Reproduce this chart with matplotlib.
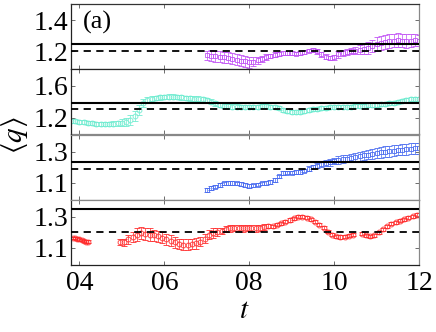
import numpy as np
import matplotlib
matplotlib.use("Agg")
import matplotlib.pyplot as plt
from matplotlib import font_manager

# ---------------- data ----------------
x_ticks = [4, 6, 8, 10, 12]
x_ticklabels = ["04", "06", "08", "10", "12"]

# panel 1 (violet)
p1_t0 = 7.0
p1_q = [1.175, 1.172, 1.168, 1.165, 1.162, 1.158, 1.152, 1.146, 1.140, 1.135,
        1.130, 1.134, 1.142, 1.152, 1.162, 1.170, 1.178, 1.185, 1.188, 1.190,
        1.188, 1.186, 1.190, 1.195, 1.205, 1.210, 1.200, 1.180, 1.165, 1.158,
        1.162, 1.180, 1.192, 1.198, 1.202, 1.205, 1.210, 1.215, 1.222, 1.235,
        1.245, 1.255, 1.262, 1.268, 1.270, 1.272, 1.270, 1.268, 1.270, 1.272,
        1.270]
p1_err = [0.030, 0.035, 0.035, 0.035, 0.035, 0.035, 0.035, 0.035, 0.035, 0.035,
          0.035, 0.030, 0.025, 0.020, 0.020, 0.015, 0.015, 0.012, 0.012, 0.012,
          0.012, 0.012, 0.012, 0.012, 0.012, 0.012, 0.015, 0.015, 0.015, 0.015,
          0.015, 0.020, 0.020, 0.020, 0.020, 0.025, 0.030, 0.035, 0.040, 0.040,
          0.045, 0.045, 0.045, 0.045, 0.045, 0.045, 0.045, 0.045, 0.040, 0.040,
          0.035]
p1_solid, p1_dashed = 1.25, 1.20
p1_ylim = (1.085, 1.505)
p1_ticks = [1.2, 1.4]

# panel 2 (aquamarine)
p2_t0 = 3.8
p2_q = [1.160, 1.155, 1.150, 1.145, 1.140, 1.130, 1.125, 1.120, 1.120, 1.120,
        1.125, 1.130, 1.140, 1.150, 1.170, 1.220, 1.300, 1.380, 1.420, 1.440,
        1.450, 1.455, 1.460, 1.465, 1.465, 1.460, 1.455, 1.450, 1.445, 1.440,
        1.440, 1.430, 1.420, 1.400, 1.380, 1.360, 1.350, 1.345, 1.340, 1.340,
        1.340, 1.335, 1.335, 1.340, 1.340, 1.345, 1.345, 1.340, 1.330, 1.320,
        1.300, 1.285, 1.275, 1.270, 1.275, 1.285, 1.300, 1.310, 1.315, 1.320,
        1.325, 1.330, 1.330, 1.330, 1.335, 1.335, 1.340, 1.345, 1.345, 1.350,
        1.355, 1.360, 1.365, 1.370, 1.375, 1.380, 1.390, 1.400, 1.410, 1.420,
        1.430, 1.435, 1.440]
p2_err = [0.025, 0.025, 0.025, 0.025, 0.025, 0.025, 0.025, 0.025, 0.025, 0.025,
          0.030, 0.030, 0.040, 0.050, 0.060, 0.060, 0.060, 0.050, 0.040, 0.035,
          0.030, 0.030, 0.030, 0.030, 0.030, 0.030, 0.030, 0.030, 0.030, 0.030,
          0.030, 0.030, 0.030, 0.030, 0.030, 0.030, 0.030, 0.030, 0.030, 0.030,
          0.025, 0.025, 0.025, 0.025, 0.025, 0.025, 0.025, 0.025, 0.025, 0.025,
          0.025, 0.025, 0.025, 0.025, 0.025, 0.025, 0.025, 0.025, 0.025, 0.025,
          0.025, 0.025, 0.025, 0.025, 0.025, 0.025, 0.025, 0.025, 0.025, 0.025,
          0.025, 0.025, 0.025, 0.025, 0.025, 0.025, 0.025, 0.025, 0.025, 0.025,
          0.025, 0.025, 0.025]
p2_solid, p2_dashed = 1.39, 1.31
p2_ylim = (0.99, 1.81)
p2_ticks = [1.2, 1.6]

# panel 3 (blue)
p3_t0 = 7.0
p3_q = [1.055, 1.065, 1.075, 1.085, 1.095, 1.100, 1.100, 1.095, 1.090, 1.085,
        1.080, 1.082, 1.088, 1.095, 1.100, 1.105, 1.115, 1.140, 1.160, 1.165,
        1.165, 1.168, 1.170, 1.178, 1.190, 1.200, 1.210, 1.220, 1.225, 1.230,
        1.240, 1.245, 1.250, 1.255, 1.260, 1.265, 1.270, 1.275, 1.280, 1.285,
        1.290, 1.295, 1.300, 1.302, 1.305, 1.310, 1.312, 1.315, 1.318, 1.320,
        1.322]
p3_err = [0.012, 0.012, 0.012, 0.012, 0.012, 0.012, 0.012, 0.012, 0.012, 0.012,
          0.012, 0.012, 0.012, 0.012, 0.012, 0.012, 0.012, 0.012, 0.012, 0.012,
          0.012, 0.012, 0.012, 0.012, 0.015, 0.015, 0.015, 0.020, 0.020, 0.020,
          0.020, 0.025, 0.025, 0.025, 0.025, 0.025, 0.030, 0.030, 0.030, 0.030,
          0.030, 0.035, 0.035, 0.035, 0.035, 0.035, 0.035, 0.035, 0.035, 0.035,
          0.035]
p3_solid, p3_dashed = 1.235, 1.19
p3_ylim = (0.99, 1.41)
p3_ticks = [1.1, 1.3]

# panel 4 (red), three segments
p4a_t0, p4a_dt = 3.85, 0.05
p4a_q = [1.165, 1.165, 1.160, 1.155, 1.150, 1.145, 1.140, 1.140]
p4a_err = [0.008, 0.008, 0.008, 0.008, 0.008, 0.008, 0.008, 0.008]
p4b_t0 = 4.95
p4b_q = [1.140, 1.135, 1.155, 1.170, 1.185, 1.195, 1.190, 1.185, 1.180, 1.175,
         1.165, 1.155, 1.145, 1.135, 1.125, 1.120, 1.120, 1.125, 1.130, 1.140,
         1.160, 1.185, 1.195, 1.200, 1.210, 1.220, 1.225, 1.230, 1.230, 1.225,
         1.230, 1.230, 1.225, 1.230, 1.235, 1.240, 1.240, 1.250, 1.260, 1.270,
         1.280, 1.290, 1.300, 1.300, 1.295, 1.285, 1.270, 1.250, 1.230, 1.205,
         1.185, 1.175, 1.170, 1.172, 1.178, 1.185]
p4b_err = [0.020, 0.025, 0.030, 0.035, 0.040, 0.040, 0.040, 0.040, 0.035, 0.035,
           0.035, 0.035, 0.035, 0.035, 0.035, 0.035, 0.035, 0.035, 0.035, 0.030,
           0.030, 0.030, 0.030, 0.025, 0.020, 0.020, 0.020, 0.020, 0.020, 0.020,
           0.020, 0.020, 0.020, 0.020, 0.020, 0.015, 0.010, 0.010, 0.010, 0.010,
           0.010, 0.010, 0.010, 0.010, 0.010, 0.010, 0.010, 0.010, 0.010, 0.010,
           0.010, 0.010, 0.010, 0.010, 0.010, 0.010]
p4c_t0 = 10.65
p4c_q = [1.190, 1.180, 1.175, 1.180, 1.200, 1.220, 1.240, 1.255, 1.265, 1.275,
         1.285, 1.295, 1.305, 1.315]
p4c_err = [0.010, 0.010, 0.010, 0.010, 0.010, 0.010, 0.010, 0.010, 0.010, 0.010,
           0.010, 0.010, 0.010, 0.010]
p4_solid, p4_dashed = 1.35, 1.20
p4_ylim = (0.99, 1.41)
p4_ticks = [1.1, 1.3]

colors = ["#c050f5", "#70ecd0", "#4a6cf0", "#ff2a2a"]

# ---------------- fonts ----------------
serif_path = font_manager.findfont(
    font_manager.FontProperties(family="Liberation Serif"))
font_manager.fontManager.addfont(serif_path)
serif_name = font_manager.FontProperties(fname=serif_path).get_name()
plt.rcParams["font.family"] = "serif"
plt.rcParams["font.serif"] = [serif_name, "DejaVu Serif"]
plt.rcParams["mathtext.fontset"] = "stix"
TICK_FS = 20

fig = plt.figure(figsize=(4.36, 3.32), dpi=100)
left, right = 71 / 436, 419 / 436
top_px, panel_px = 4, 65.25
axes = []
for i in range(4):
    y0 = 1 - (top_px + (i + 1) * panel_px) / 332
    ax = fig.add_axes([left, y0, right - left, panel_px / 332])
    axes.append(ax)


def series(ax, t0, q, err, color, marker, dt=0.1, ms=3.5):
    t = t0 + dt * np.arange(len(q))
    ax.errorbar(t, q, yerr=err, fmt=marker, color=color, mfc="none",
                mec=color, ms=ms, mew=0.7, elinewidth=0.6, capsize=2.0,
                capthick=0.6, alpha=0.85, zorder=2)


series(axes[0], p1_t0, p1_q, p1_err, colors[0], "s")
series(axes[1], p2_t0, p2_q, p2_err, colors[1], "o")
series(axes[2], p3_t0, p3_q, p3_err, colors[2], "s")
series(axes[3], p4a_t0, p4a_q, p4a_err, colors[3], "o", dt=p4a_dt)
series(axes[3], p4b_t0, p4b_q, p4b_err, colors[3], "o")
series(axes[3], p4c_t0, p4c_q, p4c_err, colors[3], "o")

solids = [p1_solid, p2_solid, p3_solid, p4_solid]
dasheds = [p1_dashed, p2_dashed, p3_dashed, p4_dashed]
ylims = [p1_ylim, p2_ylim, p3_ylim, p4_ylim]
yticks = [p1_ticks, p2_ticks, p3_ticks, p4_ticks]

for i, ax in enumerate(axes):
    ax.axhline(solids[i], color="black", lw=1.5, zorder=3)
    ax.axhline(dasheds[i], color="black", lw=1.3, ls=(0, (4, 3)), zorder=3)
    ax.set_xlim(3.8, 12.0)
    ax.set_ylim(*ylims[i])
    ax.set_yticks(yticks[i])
    ax.set_yticklabels([f"{v:.1f}" for v in yticks[i]])
    ax.set_xticks(x_ticks)
    ax.tick_params(direction="in", top=True, right=True, length=3,
                   width=0.6, color="#555555", pad=2, labelsize=TICK_FS)
    for s in ax.spines.values():
        s.set_color("#888888")
        s.set_linewidth(0.9)
    ax.spines["left"].set_color("#222222")
    if i < 3:
        ax.set_xticklabels([])
    else:
        ax.set_xticklabels(x_ticklabels)
        ax.tick_params(axis="x", pad=4)
    for lab in ax.get_yticklabels() + ax.get_xticklabels():
        lab.set_fontfamily(serif_name)
        lab.set_fontsize(TICK_FS)

axes[0].spines["top"].set_color("#333333")
axes[1].spines["top"].set_color("#222222")
axes[3].spines["bottom"].set_color("#222222")

axes[0].text(0.035, 0.72, "(a)", transform=axes[0].transAxes, fontsize=19,
             va="center", ha="left", fontfamily=serif_name)
fig.text(15 / 436, 1 - 135 / 332, r"$\langle q \rangle$", rotation=90,
         fontsize=21, ha="center", va="center")
fig.text(244 / 436, 1 - 311 / 332, r"$t$", fontsize=21, ha="center",
         va="center")

fig.savefig("out.png", dpi=100)
